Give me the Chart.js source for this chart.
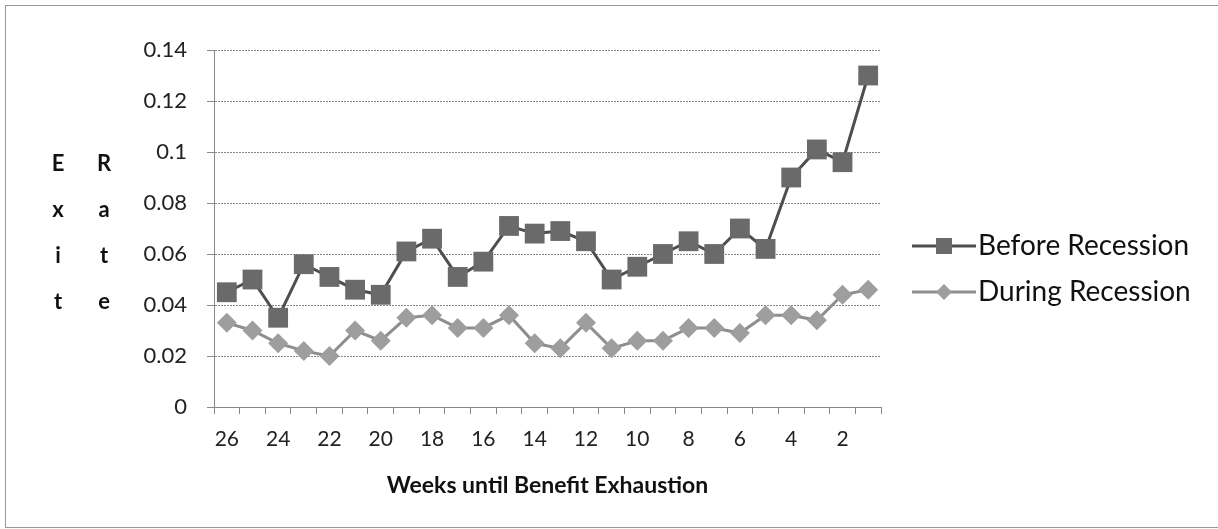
<!DOCTYPE html>
<html>
<head>
<meta charset="utf-8">
<script src="https://cdn.jsdelivr.net/npm/chart.js@4"></script>
<style>
  html, body { margin: 0; padding: 0; background: #fff; }
  #frame { position: absolute; left: 5px; top: 5px; width: 1220px; height: 521px; border: 1px solid #999; }
  canvas { position: absolute; left: 0; top: 0; }
</style>
</head>
<body>
<div id="frame"></div>
<canvas id="myChart" width="1218" height="529"></canvas>
<script>
  const weeks = [26, 25, 24, 23, 22, 21, 20, 19, 18, 17, 16, 15, 14, 13, 12, 11, 10, 9, 8, 7, 6, 5, 4, 3, 2, 1];
  const beforeRecession = [0.045, 0.050, 0.035, 0.056, 0.051, 0.046, 0.044, 0.061, 0.066, 0.051, 0.057, 0.071, 0.068,
    0.069, 0.065, 0.050, 0.055, 0.060, 0.065, 0.060, 0.070, 0.062, 0.090, 0.101, 0.096, 0.130];
  const duringRecession = [0.033, 0.030, 0.025, 0.022, 0.020, 0.030, 0.026, 0.035, 0.036, 0.031, 0.031, 0.036, 0.025,
    0.023, 0.033, 0.023, 0.026, 0.026, 0.031, 0.031, 0.029, 0.036, 0.036, 0.034, 0.044, 0.046];
  const seriesNames = ['Before Recession', 'During Recession'];
  const yTitleCols = [['E', 'x', 'i', 't'], ['R', 'a', 't', 'e']];
  const xTitle = 'Weeks until Benefit Exhaustion';

  const FONT = 'Lato, "Open Sans", sans-serif';

  // stacked letters for the y title + legend on the right
  const extras = {
    id: 'extras',
    afterDraw(chart) {
      const ctx = chart.ctx;
      const area = chart.chartArea;
      ctx.save();
      ctx.fillStyle = '#111';
      ctx.font = 'bold 22px ' + FONT;
      ctx.textAlign = 'center';
      ctx.textBaseline = 'middle';
      const colX = [58, 104];
      yTitleCols.forEach((col, c) => {
        col.forEach((ch, i) => ctx.fillText(ch, colX[c], 164 + i * 46));
      });

      ctx.font = '28px ' + FONT;
      ctx.textAlign = 'left';
      chart.data.datasets.forEach((ds, i) => {
        const y = 246 + i * 46;
        const x0 = area.right + 31;
        const x1 = x0 + 64;
        const cx = (x0 + x1) / 2;
        ctx.strokeStyle = ds.borderColor;
        ctx.lineWidth = ds.borderWidth;
        ctx.beginPath();
        ctx.moveTo(x0, y);
        ctx.lineTo(x1, y);
        ctx.stroke();
        ctx.fillStyle = ds.pointBackgroundColor;
        ctx.beginPath();
        if (ds.pointStyle === 'rect') {
          ctx.rect(cx - 8, y - 8, 16, 16);
        } else {
          ctx.moveTo(cx, y - 8);
          ctx.lineTo(cx + 8, y);
          ctx.lineTo(cx, y + 8);
          ctx.lineTo(cx - 8, y);
          ctx.closePath();
        }
        ctx.fill();
        ctx.fillStyle = '#111';
        ctx.fillText(ds.label, x1 + 2, y);
      });
      ctx.restore();
    }
  };

  const ctx = document.getElementById('myChart');
  const myChart = new Chart(ctx, {
    type: 'line',
    data: {
      labels: weeks,
      datasets: [{
        label: seriesNames[0],
        data: beforeRecession,
        borderColor: '#4e4e4e',
        borderWidth: 3,
        pointStyle: 'rect',
        pointRadius: 14,
        pointBackgroundColor: '#6a6a6a',
        pointBorderWidth: 0,
        tension: 0
      }, {
        label: seriesNames[1],
        data: duringRecession,
        borderColor: '#8e8e8e',
        borderWidth: 3,
        pointStyle: 'rectRot',
        pointRadius: 10,
        pointBackgroundColor: '#9e9e9e',
        pointBorderWidth: 0,
        tension: 0
      }]
    },
    options: {
      responsive: false,
      animation: false,
      layout: { padding: { left: 0, top: 50, right: 337, bottom: 0 } },
      plugins: { legend: { display: false }, tooltip: { enabled: false } },
      scales: {
        x: {
          offset: true,
          afterFit: (scale) => { scale.height = 122; },
          grid: { offset: true, drawOnChartArea: false, color: '#888', tickLength: 7 },
          border: { color: '#888', dash: [2, 1] },
          ticks: {
            autoSkip: false,
            maxRotation: 0,
            padding: 13,
            color: '#222',
            font: { family: FONT, size: 21 },
            callback: (v, i) => (i % 2 === 0 ? weeks[i] : '')
          },
          title: {
            display: true,
            text: xTitle,
            color: '#111',
            font: { family: FONT, size: 23, weight: 'bold' },
            padding: { top: 0, bottom: 30 }
          }
        },
        y: {
          min: 0,
          max: 0.14,
          afterFit: (scale) => { scale.width = 214; },
          grid: { color: '#888', tickLength: 7 },
          border: { color: '#888', dash: [2, 1] },
          ticks: {
            stepSize: 0.02,
            padding: 20,
            color: '#222',
            font: { family: FONT, size: 22 },
            callback: (v) => String(+v.toFixed(2))
          }
        }
      }
    },
    plugins: [extras]
  });
</script>
</body>
</html>
